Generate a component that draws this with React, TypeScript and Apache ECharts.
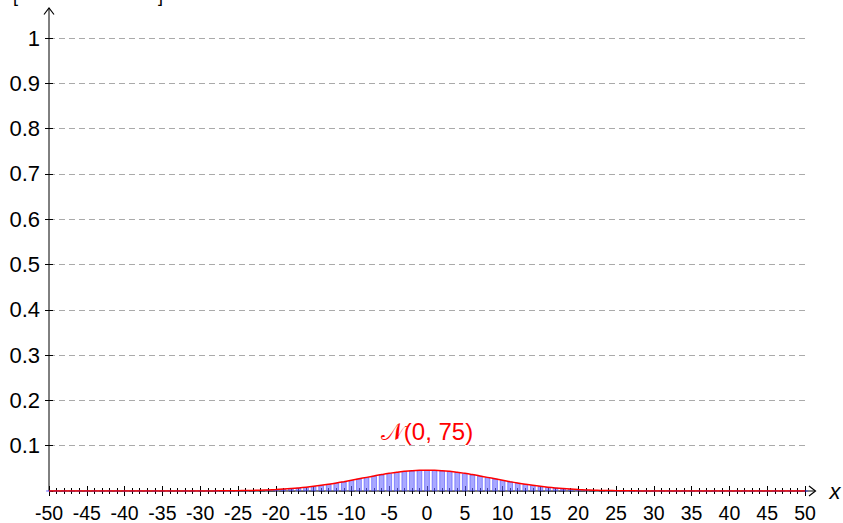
import React, { useEffect, useRef } from "react";
import * as echarts from "echarts";

const xValues = [
  -50, -49, -48, -47, -46, -45, -44, -43, -42, -41, -40, -39, -38, -37, -36, -35, -34, -33, -32, -31,
  -30, -29, -28, -27, -26, -25, -24, -23, -22, -21, -20, -19, -18, -17, -16, -15, -14, -13, -12, -11,
  -10, -9, -8, -7, -6, -5, -4, -3, -2, -1, 0, 1, 2, 3, 4, 5, 6, 7, 8, 9,
  10, 11, 12, 13, 14, 15, 16, 17, 18, 19, 20, 21, 22, 23, 24, 25, 26, 27, 28, 29,
  30, 31, 32, 33, 34, 35, 36, 37, 38, 39, 40, 41, 42, 43, 44, 45, 46, 47, 48, 49, 50,
];

const probabilities = [
  0, 0, 0, 0, 0, 0, 0, 0, 0, 0, 0, 0, 0, 0, 0, 0.00001, 0.00002, 0.00003, 0.00005, 0.00008,
  0.00011, 0.00017, 0.00025, 0.00036, 0.00051, 0.00071, 0.00099, 0.00135, 0.00183, 0.00244,
  0.0032, 0.00415, 0.00531, 0.00671, 0.00836, 0.01028, 0.01247, 0.01493, 0.01764, 0.02056,
  0.02365, 0.02685, 0.03007, 0.03323, 0.03624, 0.03899, 0.04141, 0.04338, 0.04485, 0.04576,
  0.04607,
  0.04576, 0.04485, 0.04338, 0.04141, 0.03899, 0.03624, 0.03323, 0.03007, 0.02685, 0.02365,
  0.02056, 0.01764, 0.01493, 0.01247, 0.01028, 0.00836, 0.00671, 0.00531, 0.00415, 0.0032,
  0.00244, 0.00183, 0.00135, 0.00099, 0.00071, 0.00051, 0.00036, 0.00025, 0.00017, 0.00011,
  0.00008, 0.00005, 0.00003, 0.00002, 0.00001, 0, 0, 0, 0, 0, 0, 0, 0, 0, 0, 0, 0, 0, 0, 0,
];

const curveLabel = "𝒩(0, 75)";
const xAxisName = "x";

export default function App() {
  const ref = useRef<HTMLDivElement>(null);

  useEffect(() => {
    if (!ref.current) return;
    const chart = echarts.init(ref.current, undefined, { renderer: "svg" });
    const pts = xValues.map((x, i) => [x, probabilities[i]]);
    const font = "Liberation Sans";

    const xBase = {
      type: "value",
      min: -50,
      max: 50,
      interval: 5,
      position: "bottom",
      axisLine: { show: false, onZero: false },
      splitLine: { show: false },
      minorSplitLine: { show: false },
    };
    const yBase = {
      type: "value",
      min: 0,
      max: 1,
      interval: 0.1,
      position: "left",
      axisLine: { show: false, onZero: false },
      minorTick: { show: false },
    };

    chart.setOption({
      animation: false,
      backgroundColor: "#ffffff",
      grid: { left: 49, right: 38, top: 38, bottom: 32, containLabel: false },
      xAxis: [
        {
          ...xBase,
          axisTick: { show: true, inside: false, length: 5, lineStyle: { color: "#000", width: 1 } },
          minorTick: { show: true, splitNumber: 5, length: 3, lineStyle: { color: "#000", width: 1 } },
          axisLabel: {
            show: true,
            interval: 0,
            hideOverlap: false,
            showMinLabel: true,
            showMaxLabel: true,
            margin: 12,
            color: "#000",
            fontSize: 19.5,
            fontFamily: font,
          },
        },
        {
          ...xBase,
          axisTick: { show: true, inside: true, length: 5, lineStyle: { color: "#000", width: 1 } },
          minorTick: { show: true, splitNumber: 5, length: 3, lineStyle: { color: "#000", width: 1 } },
          axisLabel: { show: false },
        },
      ],
      yAxis: [
        {
          ...yBase,
          axisTick: { show: true, inside: false, length: 4, lineStyle: { color: "#000", width: 1 } },
          splitLine: { show: true, lineStyle: { color: "#aaaaaa", width: 1, type: [6, 4] } },
          axisLabel: {
            show: true,
            margin: 9,
            color: "#000",
            fontSize: 22,
            fontFamily: font,
            showMinLabel: false,
            formatter: (v: number) => (v === 0 ? "" : String(Math.round(v * 10) / 10)),
          },
        },
        {
          ...yBase,
          axisTick: { show: true, inside: true, length: 4, lineStyle: { color: "#000", width: 1 } },
          splitLine: { show: false },
          axisLabel: { show: false },
        },
      ],
      graphic: [
        {
          type: "line",
          z: 1,
          shape: { x1: 49, y1: 491, x2: 815, y2: 491 },
          style: { stroke: "#000", lineWidth: 1 },
        },
        {
          type: "polyline",
          z: 1,
          shape: { points: [[809, 486], [815.5, 491], [809, 496]] },
          style: { stroke: "#000", lineWidth: 1.2, fill: "none" },
        },
        {
          type: "line",
          z: 1,
          shape: { x1: 49, y1: 491, x2: 49, y2: 8 },
          style: { stroke: "#000", lineWidth: 1 },
        },
        {
          type: "polyline",
          z: 1,
          shape: { points: [[44, 14.5], [49, 8], [54, 14.5]] },
          style: { stroke: "#000", lineWidth: 1.2, fill: "none" },
        },
        {
          type: "text",
          z: 10,
          x: 835,
          y: 491,
          style: {
            text: xAxisName,
            fill: "#000",
            fontFamily: font,
            fontSize: 22,
            fontStyle: "italic",
            align: "center",
            verticalAlign: "middle",
          },
        },
        {
          type: "text",
          z: 10,
          x: 427,
          y: 431,
          style: {
            text: curveLabel,
            fill: "#ff0000",
            fontFamily: font,
            fontSize: 24,
            align: "center",
            verticalAlign: "middle",
          },
        },
        {
          type: "text",
          z: 10,
          x: 13,
          y: -13,
          style: { text: "[", fill: "#000", fontFamily: font, fontSize: 18 },
        },
        {
          type: "text",
          z: 10,
          x: 158,
          y: -13,
          style: { text: "]", fill: "#000", fontFamily: font, fontSize: 18 },
        },
      ],
      series: [
        {
          type: "bar",
          xAxisIndex: 0,
          yAxisIndex: 0,
          data: pts,
          barWidth: 5.4,
          z: 3,
          itemStyle: {
            color: "rgba(110,110,255,0.6)",
            borderColor: "rgba(60,60,255,0.85)",
            borderWidth: 0.6,
          },
        },
        {
          type: "line",
          xAxisIndex: 0,
          yAxisIndex: 0,
          data: pts,
          smooth: true,
          showSymbol: false,
          symbol: "none",
          z: 6,
          lineStyle: { color: "#ff0000", width: 1.5 },
        },
      ],
    });

    return () => chart.dispose();
  }, []);

  return (
    <div
      ref={ref}
      style={{ position: "fixed", left: 0, top: 0, width: 843, height: 523, background: "#fff" }}
    />
  );
}
